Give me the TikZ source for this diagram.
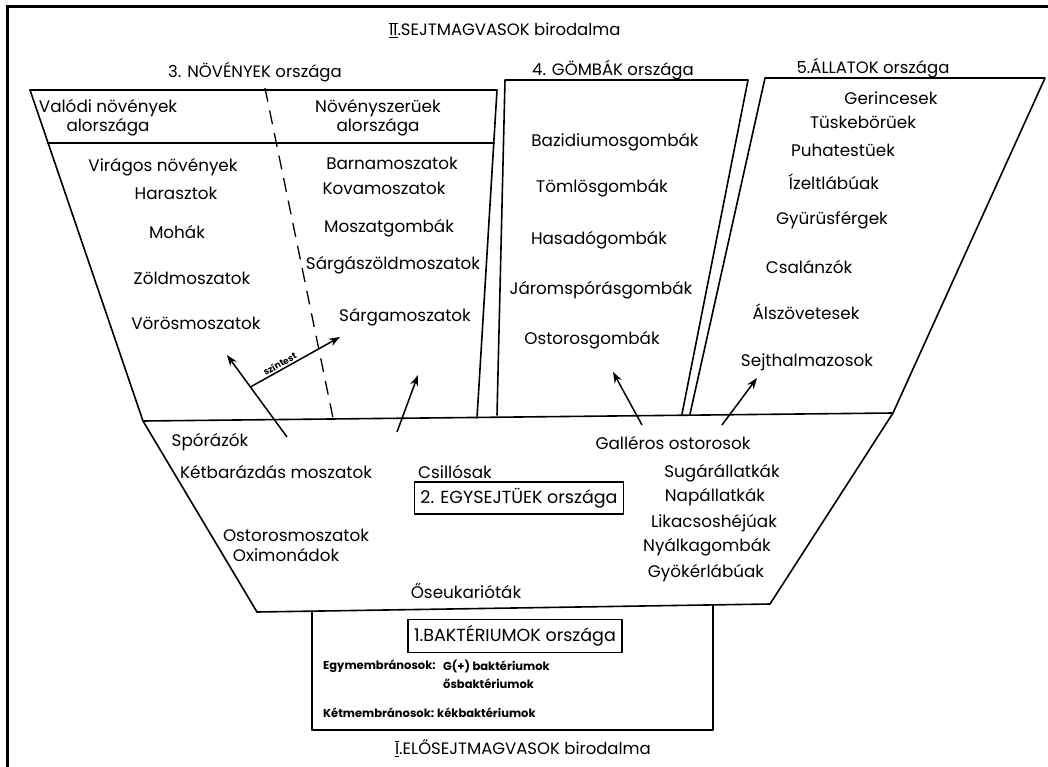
\documentclass[tikz,border=0pt]{standalone}
\usepackage{fontspec}
\setmainfont{Poppins}
\usetikzlibrary{calc,arrows.meta}

\tikzset{
  taxon/.style={font=\fontsize{16.8}{19}\selectfont, inner sep=0pt},
  head/.style={font=\fontsize{16.5}{19}\selectfont, inner sep=0pt},
  tiny/.style={font=\fontsize{11.5}{13}\selectfont\bfseries, inner sep=0pt},
  rim/.style={line width=1.6pt, line join=round, line cap=round},
  evol/.style={line width=1.5pt, -{Stealth[length=11pt,width=8pt]}},
  kbox/.style={draw, line width=1.4pt, inner xsep=6pt, inner ysep=6pt,
    font=\fontsize{17.5}{19}\selectfont}
}

\begin{document}
\begin{tikzpicture}[x=1pt,y=-1pt]
  \useasboundingbox (0,0) rectangle (1048,767);

  %% frame of the scan
  \draw[line width=3pt] (7,767) -- (7,7) -- (1048,7);

  %% II. realm
  \node[head] (realm2) at (505,30)
    {$\overline{\underline{\mbox{II}}}$.SEJTMAGVASOK birodalma};

  %%%%%%%%%%%%%%%%
  %% 3. plants
  \node[head] (plants) at (255,72) {3. NÖVÉNYEK országa};
  \draw[rim] (30,90) -- (497,90) -- (477,418);
  \draw[rim] (30,90) -- (143,421);
  \draw[rim] (48,143) -- (494,143);
  \draw[line width=1.3pt, dash pattern=on 14pt off 9pt] (265,88) -- (333,418);

  \node[taxon, align=center] (truepl) at (108,118) {Valódi növények\\alországa};
  \node[taxon, align=center] (plantlike) at (378,118) {Növényszerüek\\alországa};

  \node[taxon] (viragos) at (163,167) {Virágos növények};
  \node[taxon] (haraszt) at (176,193) {Harasztok};
  \node[taxon] (moha)    at (177,232) {Mohák};
  \node[taxon] (zold)    at (192,278) {Zöldmoszatok};
  \node[taxon] (voros)   at (196,323) {Vörösmoszatok};

  \node[taxon] (barna)   at (392,163) {Barnamoszatok};
  \node[taxon] (kova)    at (384,188) {Kovamoszatok};
  \node[taxon] (moszg)   at (389,228) {Moszatgombák};
  \node[taxon] (sargazo) at (393,265) {Sárgászöldmoszatok};
  \node[taxon] (sarga)   at (405,317) {Sárgamoszatok};

  %%%%%%%%%%%%%%%%
  %% 4. fungi
  \node[head] (fungi) at (613,70) {4. GÖMBÁK országa};
  \draw[rim] (497,415) -- (505,80) -- (748,80) -- (682,414);

  \node[taxon] (bazid)  at (615,142) {Bazidiumosgombák};
  \node[taxon] (tomlo)  at (602,188) {Tömlösgombák};
  \node[taxon] (hasado) at (599,240) {Hasadógombák};
  \node[taxon] (jarom)  at (601,290) {Járomspórásgombák};
  \node[taxon] (ostorg) at (592,340) {Ostorosgombák};

  %%%%%%%%%%%%%%%%
  %% 5. animals
  \node[head] (animals) at (873,68) {5.ÁLLATOK országa};
  \draw[rim] (690,414) -- (765,78) -- (1045,78) -- (893,413);

  \node[taxon] (gerinc) at (891,98)  {Gerincesek};
  \node[taxon] (tuske)  at (863,122) {Tüskebörüek};
  \node[taxon] (puha)   at (843,150) {Puhatestüek};
  \node[taxon] (izelt)  at (834,182) {Ízeltlábúak};
  \node[taxon] (gyuru)  at (832,220) {Gyürüsférgek};
  \node[taxon] (csalan) at (809,267) {Csalánzók};
  \node[taxon] (alszov) at (806,312) {Álszövetesek};
  \node[taxon] (sejth)  at (807,362) {Sejthalmazosok};

  %%%%%%%%%%%%%%%%
  %% 2. protists
  \draw[rim] (143,421) -- (893,413) -- (770,604) -- (257,612) -- cycle;
  \node[kbox] (protist) at (519,498) {2. EGYSEJTÜEK országa};

  \node[taxon] (spora)   at (210,442) {Spórázók};
  \node[taxon] (ketbar)  at (276,472) {Kétbarázdás moszatok};
  \node[taxon] (csillo)  at (455,472) {Csillósak};
  \node[taxon] (ostorm)  at (296,535) {Ostorosmoszatok};
  \node[taxon] (oximon)  at (286,555) {Oximonádok};
  \node[taxon] (oseuk)   at (466,591) {Őseukarióták};
  \node[taxon] (gallero) at (673,443) {Galléros ostorosok};
  \node[taxon] (sugar)   at (722,473) {Sugárállatkák};
  \node[taxon] (napall)  at (715,497) {Napállatkák};
  \node[taxon] (likacs)  at (714,523) {Likacsoshéjúak};
  \node[taxon] (nyalka)  at (707,547) {Nyálkagombák};
  \node[taxon] (gyoker)  at (706,573) {Gyökérlábúak};

  %% lines of descent
  \coordinate (plA) at (287,437);
  \coordinate (plB) at (227,355);
  \coordinate (chl) at ($(plA)!0.61!(plB)$);
  \coordinate (plC) at (340,337);
  \coordinate (plD) at (397,432);
  \coordinate (plE) at (418,375);
  \coordinate (fuA) at (642,425);
  \coordinate (fuB) at (613,372);
  \coordinate (anA) at (722,425);
  \coordinate (anB) at (757,378);
  \draw[evol] (plA) -- (plB);
  \draw[evol] (chl) -- (plC) node[tiny, pos=0.36, sloped, above=1.5pt,
    font=\fontsize{9}{11}\selectfont\bfseries] {színtest};
  \draw[evol] (plD) -- (plE);
  \draw[evol] (fuA) -- (fuB);
  \draw[evol] (anA) -- (anB);

  %%%%%%%%%%%%%%%%
  %% 1. bacteria
  \draw[rim] (312,611) -- (312,730) -- (713,730) -- (713,605);
  \node[kbox] (bacter) at (515,636) {1.BAKTÉRIUMOK országa};

  \node[tiny, anchor=west] (egym)  at (323,666) {Egymembránosok:};
  \node[tiny, anchor=west] (gplus) at (443,666) {G(+) baktériumok};
  \node[tiny, anchor=west] (osbak) at (443,684) {ősbaktériumok};
  \node[tiny, anchor=west] (ketm)  at (323,713) {Kétmembránosok:};
  \node[tiny, anchor=west] (kekb)  at (437,713) {kékbaktériumok};

  %% I. realm
  \node[head] (realm1) at (523,748)
    {$\overline{\underline{\mbox{I}}}$.ELŐSEJTMAGVASOK birodalma};

\end{tikzpicture}
\end{document}
